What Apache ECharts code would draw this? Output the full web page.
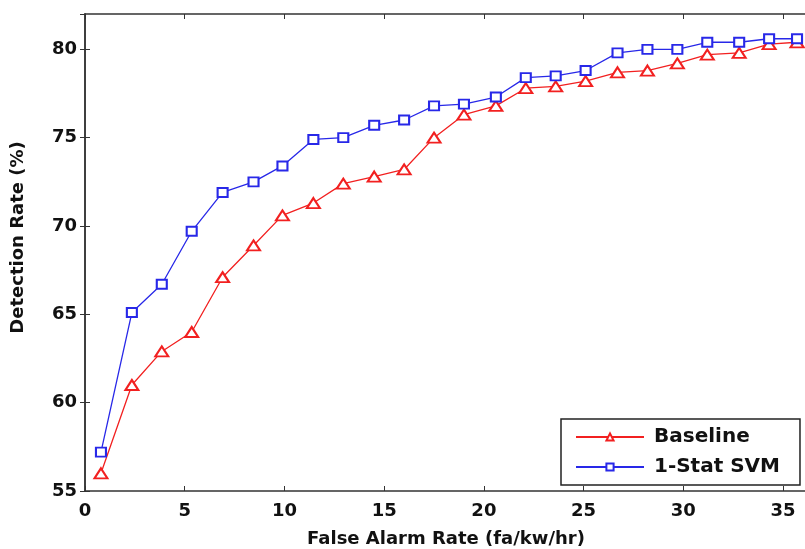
<!DOCTYPE html>
<html>
<head>
<meta charset="utf-8">
<script src="https://cdn.jsdelivr.net/npm/echarts@6/dist/echarts.min.js"></script>
<style>
  html, body { margin: 0; padding: 0; background: #fff; }
  #chart { width: 805px; height: 549px; }
</style>
</head>
<body>
<div id="chart"></div>
<script>
// false alarm rate (fa/kw/hr), shared by both curves
const farValues = [0.8, 2.35, 3.85, 5.35, 6.9, 8.45, 9.9, 11.45, 12.95, 14.5, 16.0, 17.5,
  19.0, 20.6, 22.1, 23.6, 25.1, 26.7, 28.2, 29.7, 31.2, 32.8, 34.3, 35.7];
const baselineRate = [56.0, 61.0, 62.9, 64.0, 67.1, 68.9, 70.6, 71.3, 72.4, 72.8, 73.2, 75.0,
  76.3, 76.8, 77.8, 77.9, 78.2, 78.7, 78.8, 79.2, 79.7, 79.8, 80.3, 80.4];
const svmRate = [57.2, 65.1, 66.7, 69.7, 71.9, 72.5, 73.4, 74.9, 75.0, 75.7, 76.0, 76.8,
  76.9, 77.3, 78.4, 78.5, 78.8, 79.8, 80.0, 80.0, 80.4, 80.4, 80.6, 80.6];
const seriesNames = ["Baseline", "1-Stat SVM"];

const font = "DejaVu Sans";
const axisColor = "#333";

function pairs(xs, ys) {
  return xs.map((x, i) => [x, ys[i]]);
}

const chart = echarts.init(document.getElementById("chart"));

const boxAxis = {
  axisLine: { show: true, lineStyle: { color: axisColor, width: 1.5 } },
  axisTick: { show: true, inside: true, length: 5, lineStyle: { color: axisColor } },
  splitLine: { show: false }
};

chart.setOption({
  animation: false,
  grid: { left: 85, right: -2, top: 14, bottom: 58, containLabel: false, outerBoundsMode: "none" },
  xAxis: [
    Object.assign({
      type: "value",
      min: 0,
      max: 36.2,
      interval: 5,
      name: "False Alarm Rate (fa/kw/hr)",
      nameLocation: "middle",
      nameGap: 39,
      nameTextStyle: { fontFamily: font, fontWeight: "bold", fontSize: 18, color: "#111" },
      axisLabel: {
        fontFamily: font, fontWeight: "bold", fontSize: 18, color: "#111", margin: 11,
        showMaxLabel: false
      }
    }, boxAxis),
    Object.assign({
      type: "value", position: "top", min: 0, max: 36.2, interval: 5,
      axisLabel: { show: false }
    }, boxAxis)
  ],
  yAxis: [
    Object.assign({
      type: "value",
      min: 55,
      max: 82,
      interval: 5,
      name: "Detection Rate (%)",
      nameLocation: "middle",
      nameGap: 58,
      nameTextStyle: { fontFamily: font, fontWeight: "bold", fontSize: 18, color: "#111",
        padding: [0, 0, 0, 30] },
      axisLabel: {
        fontFamily: font, fontWeight: "bold", fontSize: 18, color: "#111", margin: 8,
        showMaxLabel: false
      }
    }, boxAxis),
    Object.assign({
      type: "value", position: "right", min: 55, max: 82, interval: 5,
      axisLabel: { show: false }
    }, boxAxis)
  ],
  legend: {
    orient: "vertical",
    left: 561,
    top: 419,
    backgroundColor: "#fff",
    borderColor: "#222",
    borderWidth: 1.5,
    borderRadius: 0,
    padding: [8, 20, 8, 14],
    itemGap: 10,
    itemWidth: 68,
    itemHeight: 9,
    textStyle: { fontFamily: font, fontWeight: "bold", fontSize: 20, color: "#111",
      padding: [0, 0, 0, 5] },
    data: seriesNames
  },
  series: [
    {
      name: seriesNames[0],
      type: "line",
      data: pairs(farValues, baselineRate),
      symbol: "emptyTriangle",
      symbolSize: [13, 10],
      color: "#f22020",
      lineStyle: { width: 1.3 },
      itemStyle: { borderWidth: 1.2 },
      z: 2
    },
    {
      name: seriesNames[1],
      type: "line",
      data: pairs(farValues, svmRate),
      symbol: "emptyRect",
      symbolSize: [10, 9],
      color: "#2828e8",
      lineStyle: { width: 1.3 },
      itemStyle: { borderWidth: 1.2 },
      z: 3
    }
  ]
});
</script>
</body>
</html>
